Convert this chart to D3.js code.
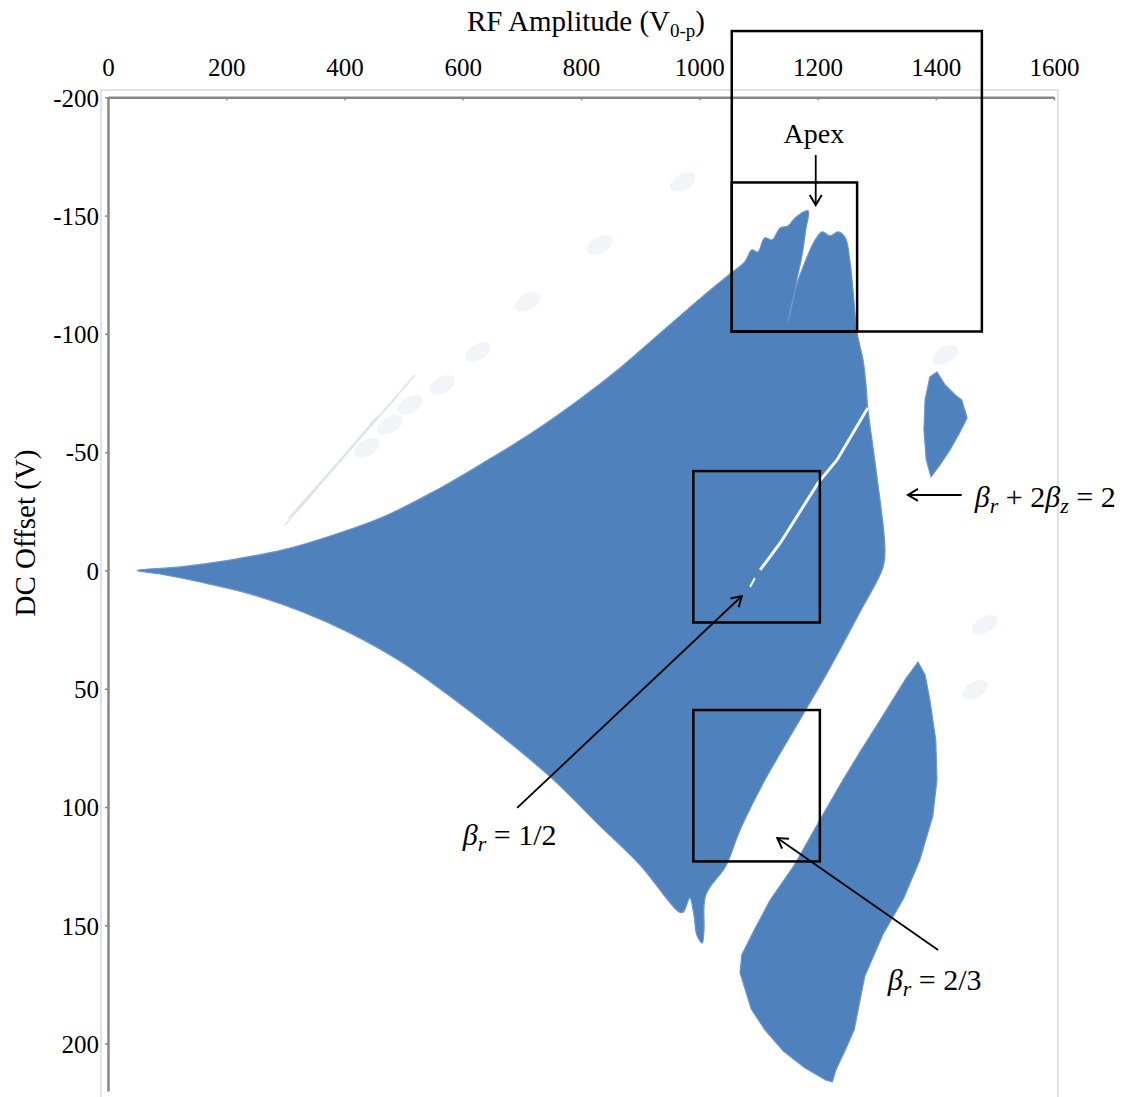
<!DOCTYPE html>
<html>
<head>
<meta charset="utf-8">
<script src="https://cdn.jsdelivr.net/npm/d3@7"></script>
<style>
body { margin: 0; background: #fff; }
text { font-family: "Liberation Serif", "Times New Roman", serif; fill: #000; }
</style>
</head>
<body>
<svg id="chart" width="1129" height="1097"></svg>
<script>
// tick values
var xTicks = [0, 200, 400, 600, 800, 1000, 1200, 1400, 1600];
var yTicks = [-200, -150, -100, -50, 0, 50, 100, 150, 200];

// stability regions, [RF amplitude, DC offset]
var mainLobe = [
	[49, 0], [122, -1.5], [206, -4.4], [296, -8.7], [381, -15], [465, -22.6], [550, -33.2],
	[634, -45.4], [719, -58.5], [803, -73.3], [866, -85.6], [917, -96.6], [1001, -114.8],
	[1052, -125.3], [1077, -130.4], [1089, -135.5], [1099, -134.6], [1111, -140.6], [1123, -139.7],
	[1137, -144.8], [1150, -145.6], [1162, -149], [1184, -152],
	[1180, -143.9], [1174, -133.4], [1165, -122.8], [1157, -112.2], [1150, -105],
	[1162, -118.6], [1179, -130.4], [1196, -139.7], [1208, -143.1], [1221, -141.4], [1235, -143.1],
	[1247, -140.6], [1255, -130.4], [1260, -118.6], [1267, -100.4], [1277, -89], [1282, -78.4],
	[1285, -68.7], [1299, -42.5], [1314, -9.5], [1311, -1.5],
	[1272, 17.5], [1221, 41.2], [1170, 63.2], [1111, 88.6], [1069, 109.7], [1045, 124.9], [1011, 137.2],
	[1008, 152], [1005, 157.5], [996, 154.1], [991, 145.6], [984, 138.4],
	[973, 144.4], [966, 144.4],
	[900, 124.5], [832, 108], [754, 88.6], [663, 69.5], [578, 53.1], [494, 38.3], [409, 26.4],
	[325, 17.1], [240, 9.9], [156, 4.9], [88, 1.5]
];
var lowerLobe = [
	[1370, 38.7], [1348, 46.3], [1306, 63.2], [1272, 76.7], [1243, 88.6], [1204, 105.5], [1160, 124.9],
	[1120, 139.3], [1093, 152], [1072, 162.5], [1069, 170.1], [1088, 185.4], [1111, 194.2],
	[1142, 203.1], [1179, 210.3], [1214, 215.4], [1225, 216.2], [1231, 211.2], [1247, 202.7],
	[1262, 194.2], [1280, 171.4], [1311, 153.7], [1346, 138.4], [1373, 122.4], [1395, 103.8],
	[1402, 88.6], [1400, 71.7], [1390, 54.7], [1382, 44.2]
];
var satellite = [
	[1390, -81.8], [1402, -83.9], [1416, -78.4], [1433, -74.2], [1444, -72.1], [1453, -64.5],
	[1441, -58.5], [1424, -50.9], [1407, -44.6], [1392, -39.5], [1384, -46.7], [1380, -59.4], [1382, -72.1]
];
// white gap along beta_r = 1/2
var halfLine = [[1285, -68.7], [1233, -46.7], [1201, -37], [1137, -11.6], [1103, -0.2]];
var halfDash = [[1094, 3.2], [1086, 7]];
// faint sparse points
var ghostSpots = [
	[832, -137.6], [972, -164.2], [710, -113.5], [626, -92.4], [565, -78.4], [511, -70],
	[477, -61.5], [438, -51.8], [1416, -91.1], [1483, 23], [1466, 50.5]
];
var ghostStreaks = [
	[[299, -19.2], [519, -82.6]],
	[[305, -22], [490, -74]],
	[[320, -25], [455, -65]]
];

// annotations [x0, x1, y0, y1]
var zoomBoxes = [
	[1055, 1478, -228, -101],
	[1055, 1267, -164, -101],
	[990, 1204, -42, 22],
	[990, 1204, 59, 123]
];
// arrows [from, to]
var arrows = [
	[[1197, -175.6], [1197, -154.5]],
	[[1444, -31.9], [1353, -31.9]],
	[[692, 100.4], [1072, 10.8]],
	[[1404, 160.4], [1132, 113.1]]
];

var svg = d3.select("#chart");
var x = d3.scaleLinear().domain([0, 1600]).range([108, 1054]);
var y = d3.scaleLinear().domain([-200, 220]).range([97.3, 1090.9]);

var blue = "#4f81bd";

// plot frame
svg.append("rect")
	.attr("x", 101).attr("y", 90)
	.attr("width", 957).attr("height", 1020)
	.attr("fill", "none").attr("stroke", "#c8c8c8").attr("stroke-width", 1);

var line = d3.line().x(function(d) { return x(d[0]); }).y(function(d) { return y(d[1]); });
var smooth = d3.line().x(function(d) { return x(d[0]); }).y(function(d) { return y(d[1]); })
	.curve(d3.curveCatmullRomClosed.alpha(0.5));

// faint points first
svg.selectAll(".streak").data(ghostStreaks).enter().append("path")
	.attr("class", "streak")
	.attr("d", line)
	.attr("stroke", "#dfe4ea").attr("stroke-width", 1.5).attr("fill", "none");
svg.selectAll(".ghost").data(ghostSpots).enter().append("ellipse")
	.attr("class", "ghost")
	.attr("cx", function(d) { return x(d[0]); })
	.attr("cy", function(d) { return y(d[1]); })
	.attr("rx", 14).attr("ry", 8)
	.attr("transform", function(d) { return "rotate(-30," + x(d[0]) + "," + y(d[1]) + ")"; })
	.attr("fill", "#a9bedb").attr("opacity", 0.16);

svg.append("path")
	.attr("d", smooth(mainLobe))
	.attr("fill", blue)
	.attr("stroke", "#6c95c9").attr("stroke-width", 1.2);
[lowerLobe, satellite].forEach(function(poly) {
	svg.append("path")
		.attr("d", line(poly) + "Z")
		.attr("fill", blue)
		.attr("stroke", "#6c95c9").attr("stroke-width", 1.2).attr("stroke-linejoin", "round");
});

svg.append("path").attr("d", line(halfLine))
	.attr("stroke", "#f4f8fc").attr("stroke-width", 3).attr("fill", "none");
svg.append("path").attr("d", line(halfDash))
	.attr("stroke", "#f4f8fc").attr("stroke-width", 2).attr("fill", "none");

// axes
var xAxis = d3.axisTop(x).tickValues(xTicks).tickSizeInner(-3).tickSizeOuter(0).tickPadding(21)
	.tickFormat(function(d) { return String(d); });
var gx = svg.append("g").attr("transform", "translate(0,97.3)").call(xAxis);
var yAxis = d3.axisLeft(y).tickValues(yTicks).tickSizeInner(3).tickSizeOuter(0).tickPadding(6)
	.tickFormat(function(d) { return String(d); });
var gy = svg.append("g").attr("transform", "translate(108,0)").call(yAxis);
[gx, gy].forEach(function(g) {
	g.select(".domain").attr("stroke", "#878787").attr("stroke-width", 2.5);
	g.selectAll(".tick line").attr("stroke", "#878787").attr("stroke-width", 1.5);
	g.selectAll(".tick text")
		.attr("font-family", "Liberation Serif, Times New Roman, serif")
		.attr("font-size", 25).attr("fill", "#000");
});
gy.selectAll(".tick text").attr("dy", "0.35em");

// axis titles
var title = svg.append("text").attr("x", 586).attr("y", 31)
	.attr("text-anchor", "middle").attr("font-size", 29);
title.append("tspan").text("RF Amplitude (V");
title.append("tspan").attr("font-size", 19).attr("dy", 6).text("0-p");
title.append("tspan").attr("dy", -6).text(")");

svg.append("text")
	.attr("transform", "translate(35,533) rotate(-90)")
	.attr("text-anchor", "middle").attr("font-size", 29)
	.text("DC Offset (V)");

// zoom boxes
svg.selectAll(".zbox").data(zoomBoxes).enter().append("rect")
	.attr("class", "zbox")
	.attr("x", function(d) { return x(d[0]); })
	.attr("y", function(d) { return y(d[2]); })
	.attr("width", function(d) { return x(d[1]) - x(d[0]); })
	.attr("height", function(d) { return y(d[3]) - y(d[2]); })
	.attr("fill", "none").attr("stroke", "#000").attr("stroke-width", 2.5);

// arrows
svg.append("defs").append("marker")
	.attr("id", "head")
	.attr("viewBox", "-12 -8 14 16")
	.attr("refX", 0).attr("refY", 0)
	.attr("markerWidth", 14).attr("markerHeight", 16)
	.attr("markerUnits", "userSpaceOnUse")
	.attr("orient", "auto")
	.append("path")
	.attr("d", "M-10,-6L0,0L-10,6")
	.attr("fill", "none").attr("stroke", "#000").attr("stroke-width", 2);

svg.selectAll(".arrow").data(arrows).enter().append("path")
	.attr("class", "arrow")
	.attr("d", line)
	.attr("stroke", "#000").attr("stroke-width", 1.8).attr("fill", "none")
	.attr("marker-end", "url(#head)");

// labels
svg.append("text").attr("x", x(1194)).attr("y", y(-180.5))
	.attr("text-anchor", "middle").attr("font-size", 28).text("Apex");

function betaLabel(px, py, parts) {
	var t = svg.append("text").attr("x", px).attr("y", py).attr("font-size", 30);
	parts.forEach(function(p) {
		var s = t.append("tspan").text(p[0]);
		if (p[1] === "i") s.attr("font-style", "italic");
		if (p[1] === "sub") s.attr("font-style", "italic").attr("font-size", 22).attr("dy", 6);
		if (p[2]) s.attr("dy", p[2]);
	});
}
betaLabel(x(1466), y(-26.8), [["β", "i"], ["r", "sub"], [" + 2", "n", -6], ["β", "i"], ["z", "sub"], [" = 2", "n", -6]]);
betaLabel(x(600), y(116), [["β", "i"], ["r", "sub"], [" = 1/2", "n", -6]]);
betaLabel(x(1319), y(177.3), [["β", "i"], ["r", "sub"], [" = 2/3", "n", -6]]);
</script>
</body>
</html>
